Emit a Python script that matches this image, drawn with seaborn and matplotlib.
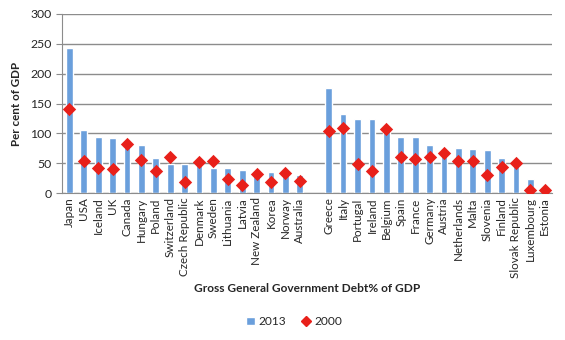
import numpy as np
import pandas as pd
import matplotlib
matplotlib.use("Agg")
import matplotlib.pyplot as plt
from matplotlib.lines import Line2D
from matplotlib.patches import Patch
import seaborn as sns

countries = ["Japan", "USA", "Iceland", "UK", "Canada", "Hungary", "Poland", "Switzerland",
             "Czech Republic", "Denmark", "Sweden", "Lithuania", "Latvia", "New Zealand",
             "Korea", "Norway", "Australia", " ",
             "Greece", "Italy", "Portugal", "Ireland", "Belgium", "Spain", "France", "Germany",
             "Austria", "Netherlands", "Malta", "Slovenia", "Finland", "Slovak Republic",
             "Luxembourg", "Estonia"]
debt_2013 = [243, 105, 94, 92, 89, 81, 58, 49, 48, 47, 42, 42, 39, 35, 35, 34, 30, np.nan,
             176, 132, 124, 124, 105, 94, 94, 80, 74, 76, 74, 72, 59, 50, 23, 5]
debt_2000 = [141, 54, 42, 41, 82, 55, 37, 61, 19, 52, 53, 24, 14, 32, 19, 34, 20, np.nan,
             104, 109, 49, 37, 108, 61, 57, 61, 67, 54, 54, 30, 44, 50, 6, 6]
yticks = [0, 50, 100, 150, 200, 250, 300]

df = pd.DataFrame({"country": countries, "2013": debt_2013, "2000": debt_2000})

sns.set_style("white")
plt.rcParams["font.family"] = ["Lato", "DejaVu Sans"]

fig = plt.figure(figsize=(5.65, 3.4), dpi=100)
ax = fig.add_axes([0.110, 0.432, 0.867, 0.527])

bar_col = "#6a9fdc"
dot_col = "#e8201a"

sns.barplot(data=df, x="country", y="2013", order=countries, color=bar_col,
            width=0.47, saturation=1, ax=ax, zorder=2)
sns.stripplot(data=df, x="country", y="2000", order=countries, color=dot_col,
              marker="D", size=6.8, jitter=False, ax=ax, zorder=3, linewidth=0)

ax.set_ylim(0, 300)
ax.set_yticks(yticks)
ax.set_xlim(-0.5, len(countries) - 0.5)
ax.yaxis.grid(True, color="#8c8c8c", linewidth=1)
ax.set_axisbelow(True)
for s in ["top", "right"]:
    ax.spines[s].set_visible(False)
ax.spines["left"].set_color("#8c8c8c")
ax.spines["bottom"].set_color("#8c8c8c")

ax.set_xticks(range(len(countries)))
ax.set_xticklabels(countries, rotation=90, fontsize=8.4)
ax.tick_params(axis="x", length=0, pad=3)
ax.set_xticks(np.arange(-0.5, len(countries), 1.0), minor=True)
ax.tick_params(axis="x", which="minor", length=4, color="#8c8c8c", direction="out")
ax.tick_params(axis="y", length=4, color="#8c8c8c", labelsize=8.8, left=True, direction="out")

ax.set_ylabel("Per cent of GDP", fontsize=8.4, fontweight="bold", labelpad=6)
ax.set_xlabel("")
fig.text(0.543, 0.150, "Gross General Government Debt% of GDP", ha="center", va="center",
         fontsize=8.6, fontweight="bold")

handles = [Patch(facecolor=bar_col, label="2013"),
           Line2D([], [], marker="D", color=dot_col, linestyle="none", markersize=5, label="2000")]
fig.legend(handles=handles, loc="center", bbox_to_anchor=(0.52, 0.054), ncol=2, frameon=False,
           fontsize=8.6, handlelength=0.8, handletextpad=0.3, columnspacing=1.2)

fig.savefig("out.png", dpi=100)
